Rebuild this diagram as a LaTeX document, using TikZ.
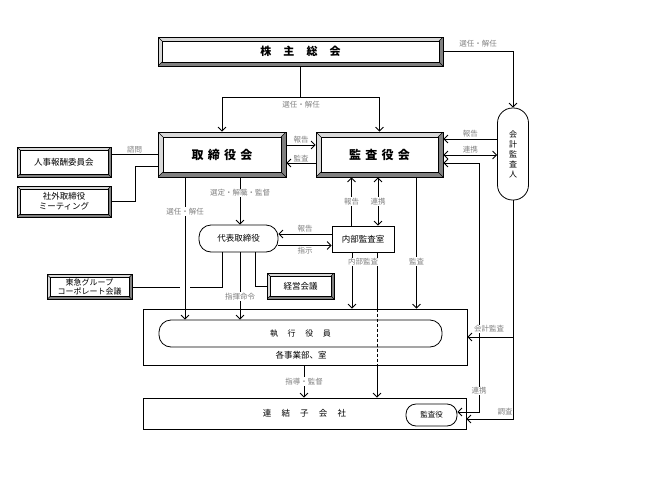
\documentclass[tikz,border=0pt]{standalone}
\usepackage{fontspec}
\setmainfont{Noto Sans CJK JP}
\usetikzlibrary{arrows.meta,positioning}

% beveled frame drawn inside a node
\newcommand{\bevelfill}[1]{%
  \fill[black!15] (path picture bounding box.south west) rectangle (path picture bounding box.north east);
  \fill[black!50] (path picture bounding box.south west) -- (path picture bounding box.south east)
    -- (path picture bounding box.north east) -- ([shift={(-#1,-#1)}]path picture bounding box.north east)
    -- ([shift={(-#1,#1)}]path picture bounding box.south east) -- ([shift={(#1,#1)}]path picture bounding box.south west) -- cycle;
  \draw[line width=0.5pt, fill=white] ([shift={(#1,-#1)}]path picture bounding box.north west) rectangle ([shift={(-#1,#1)}]path picture bounding box.south east);
  \draw[line width=0.4pt] (path picture bounding box.north west) -- ([shift={(#1,-#1)}]path picture bounding box.north west)
    (path picture bounding box.north east) -- ([shift={(-#1,-#1)}]path picture bounding box.north east)
    (path picture bounding box.south west) -- ([shift={(#1,#1)}]path picture bounding box.south west)
    (path picture bounding box.south east) -- ([shift={(-#1,#1)}]path picture bounding box.south east);
}

\tikzset{
  bevel/.style={draw, line width=0.8pt, path picture={\bevelfill{#1}}, align=center, font=\fontsize{8.5}{10.5}\selectfont},
  plain/.style={draw, line width=0.8pt, fill=white, align=center, font=\fontsize{8.5}{10.5}\selectfont},
  pill/.style={plain, rounded corners=12pt},
  note/.style={font=\fontsize{7.5}{8.5}\selectfont, text=black!50, inner sep=1pt},
  lbl/.style={note, fill=white},
}

\begin{document}
\begin{tikzpicture}[x=1pt, y=-1pt, line width=0.8pt, >={Straight Barb[length=4pt,width=8pt]}]
    \useasboundingbox (0,0) rectangle (645,498);

    % Top
    \node[bevel=4pt, minimum width=285pt, minimum height=29pt, font=\bfseries\fontsize{11}{12}\selectfont] (soukai) at (300.5,51.5) {株\hspace{1.1em}主\hspace{1.1em}総\hspace{1.1em}会};

    % Board and auditors
    \node[bevel=5pt, minimum width=128pt, minimum height=45pt, font=\bfseries\fontsize{12}{13}\selectfont] (torishimari) at (222,154.5) {取\hspace{.35em}締\hspace{.35em}役\hspace{.35em}会};
    \node[bevel=5pt, minimum width=127pt, minimum height=45pt, font=\bfseries\fontsize{12}{13}\selectfont] (kansayaku) at (379.5,154.5) {監\hspace{.35em}査\hspace{.35em}役\hspace{.35em}会};
    \node[pill, rounded corners=15pt, minimum width=31pt, minimum height=92pt, font=\fontsize{8}{10}\selectfont] (kaikei) at (513,154) {会\\計\\監\\査\\人};

    % Left side
    \node[bevel=3pt, minimum width=94pt, minimum height=30pt] (jinji) at (64,162) {人事報酬委員会};
    \node[bevel=3pt, minimum width=94pt, minimum height=31pt] (shagai) at (64,201.5) {社外取締役\\ミーティング};
    \node[bevel=3pt, minimum width=85pt, minimum height=25pt, font=\fontsize{8}{9.5}\selectfont] (tokyu) at (89.5,287) {東急グループ\\コーポレート会議};

    % Middle
    \node[pill, minimum width=79pt, minimum height=27pt] (daihyo) at (238.5,238.5) {代表取締役};
    \node[plain, minimum width=62pt, minimum height=26pt] (naibu) at (363,239) {内部監査室};
    \node[bevel=3pt, minimum width=67pt, minimum height=26pt] (keiei) at (300.5,286) {経営会議};

    % Bottom
    \node[draw, minimum width=324pt, minimum height=56pt] (jigyo) at (305,337) {};
    \node[pill, minimum width=283pt, minimum height=27pt, font=\fontsize{8}{10}\selectfont] (shikko) at (300.5,333.5) {執\hspace{1.2em}行\hspace{1.2em}役\hspace{1.2em}員};
    \node[font=\fontsize{8.5}{10}\selectfont] (jigyotxt) at (301,355.5) {各事業部、室};
    \node[draw, minimum width=323pt, minimum height=31pt, font=\fontsize{8.5}{10}\selectfont] (renketsu) at (304.5,413.5) {連\hspace{1.2em}結\hspace{1.2em}子\hspace{1.2em}会\hspace{1.2em}社};
    \node[pill, rounded corners=10pt, minimum width=51pt, minimum height=22pt, font=\fontsize{7.5}{9}\selectfont] (kansa2) at (431.5,415) {監査役};

    % Arrows from the top
    \draw[->] (soukai.south) -- ++(0,31) -| (torishimari.north);
    \draw[->] (soukai.south) -- ++(0,31) -| (kansayaku.north);
    \draw[->] (soukai.east) -| (kaikei.north);

    % Board <-> auditors
    \draw[->] ([yshift=9.5pt]torishimari.east) -- ([yshift=9.5pt]kansayaku.west) node[note, midway, above] {報告};
    \draw[<-] ([yshift=-8.5pt]torishimari.east) -- ([yshift=-8.5pt]kansayaku.west) node[note, midway, above] {監査};
    \draw (jinji.east |- torishimari.west) -- (torishimari.west) node[note, midway, above] {諮問};
    \draw (shagai.east) -- ++(24,0) |- ([yshift=-11.5pt]torishimari.west);

    % Accounting auditor
    \draw[->] ([yshift=15pt]kaikei.west) -- ([yshift=15pt]kaikei.west -| kansayaku.east) node[note, midway, above] {報告};
    \draw[<->] ([yshift=-1pt]kaikei.west) -- ([yshift=-1pt]kaikei.west -| kansayaku.east) node[note, midway, above] {連携};
    \draw[<->] ([yshift=-8.5pt]kansayaku.east) -- ++(36,0) |- ([yshift=3pt]kansa2.east);
    \draw[->] (kaikei.south) |- ([yshift=-5.5pt]renketsu.east);
    \draw[->] (kaikei.south |- jigyo.east) -- (jigyo.east);

    % Board downwards
    \draw[->] ([xshift=-37pt]torishimari.south) -- ([xshift=-115.5pt]shikko.north) node[lbl, pos=0.24] {選任・解任};
    \draw[->] ([xshift=18pt]torishimari.south) -- ([xshift=1.5pt]daihyo.north) node[lbl, pos=0.33] {選定・解職・監督};

    % Representative director
    \draw[->] ([xshift=1.5pt]daihyo.south) -- ([xshift=-60.5pt]shikko.north) node[lbl, pos=0.66] {指揮命令};
    \draw (tokyu.east) -- (180,287) (190,287) -| ([xshift=-16.5pt]daihyo.south);
    \draw ([xshift=16.5pt]daihyo.south) |- (keiei.west);
    \draw[->] ([yshift=5pt]naibu.west) -- ([yshift=5pt]naibu.west -| daihyo.east) node[note, midway, above] {報告};
    \draw[->] ([yshift=-7pt]daihyo.east) -- ([yshift=-7pt]daihyo.east -| naibu.west) node[note, midway, below] {指示};

    % Internal audit
    \draw[->] ([xshift=-11.5pt]naibu.north) -- ([xshift=-28pt]kansayaku.south) node[lbl, midway] {報告};
    \draw[<->] ([xshift=15pt]naibu.north) -- ([xshift=-1.5pt]kansayaku.south) node[lbl, midway] {連携};
    \draw[->] ([xshift=-11pt]naibu.south) -- ([xshift=47pt]jigyo.north);
    \draw ([xshift=14pt]naibu.south) -- ([xshift=72pt]jigyo.north);
    \draw[dash pattern=on 3pt off 2pt, line width=0.5pt] ([xshift=72pt]jigyo.north) -- ([xshift=72pt]jigyo.south);
    \draw[->] ([xshift=72pt]jigyo.south) -- ([xshift=72.5pt]renketsu.north);
    \draw[->] ([xshift=37pt]kansayaku.south) -- ([xshift=111.5pt]jigyo.north) node[lbl, pos=0.64] {監査};
    \draw[->] ([xshift=-1pt]jigyo.south) -- ([xshift=-0.5pt]renketsu.north) node[lbl, midway] {指導・監督};

    % Loose labels
    \node[note] at (301,105) {選任・解任};
    \node[note] at (478,44) {選任・解任};
    \node[lbl] at (363,262) {内部監査};
    \node[lbl] at (489,329) {会計監査};
    \node[lbl] at (479,391) {連携};
    \node[note] at (505,412) {調査};
\end{tikzpicture}
\end{document}
